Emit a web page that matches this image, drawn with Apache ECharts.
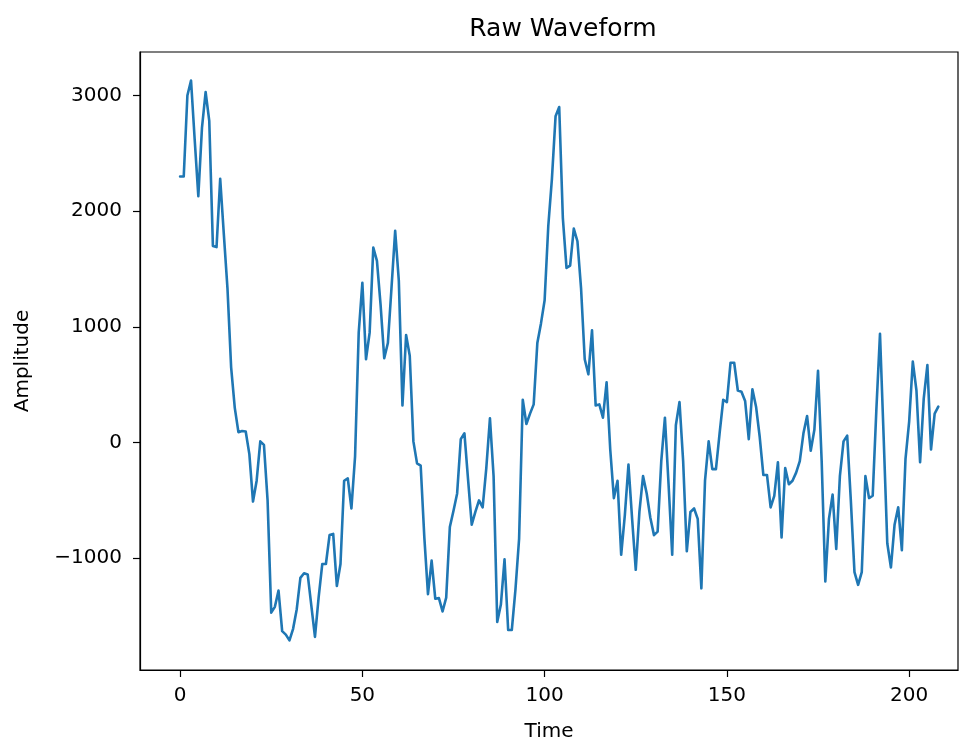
<!DOCTYPE html>
<html>
<head>
<meta charset="utf-8">
<title>Raw Waveform</title>
<script src="https://cdn.jsdelivr.net/npm/echarts@6/dist/echarts.min.js"></script>
<style>
  html, body { margin: 0; padding: 0; background: #ffffff; }
  #chart { width: 973px; height: 747px; }
</style>
</head>
<body>
<div id="chart"></div>
<script>
// Sampled amplitude of the raw signal, one value per time step (0..208)
const amplitude = [
  2300, 2300, 3000, 3130, 2620, 2130, 2720, 3030, 2780, 1700,
  1690, 2280, 1800, 1330, 650, 300, 90, 100, 95, -100,
  -510, -330, 10, -20, -500, -1470, -1420, -1280, -1630, -1660,
  -1710, -1610, -1440, -1170, -1130, -1140, -1410, -1680, -1340, -1050,
  -1050, -800, -790, -1240, -1050, -330, -310, -570, -120, 950,
  1380, 720, 950, 1685, 1570, 1190, 730, 860, 1340, 1830,
  1400, 320, 930, 750, 10, -180, -200, -820, -1310, -1020,
  -1350, -1345, -1460, -1340, -730, -590, -440, 30, 80, -320,
  -710, -600, -500, -560, -220, 210, -290, -1550, -1400, -1010,
  -1620, -1620, -1270, -830, 370, 160, 250, 330, 860, 1030,
  1230, 1870, 2280, 2820, 2900, 1940, 1510, 1530, 1850, 1740,
  1330, 720, 590, 970, 320, 330, 215, 520, -60, -480,
  -330, -970, -630, -190, -660, -1100, -600, -290, -440, -650,
  -800, -770, -160, 215, -360, -970, 150, 350, -160, -940,
  -600, -570, -660, -1260, -330, 10, -230, -230, 80, 370,
  350, 690, 690, 450, 440, 360, 30, 460, 310, 50,
  -280, -280, -560, -460, -170, -820, -220, -360, -330, -260,
  -160, 80, 230, -70, 110, 620, -160, -1200, -660, -450,
  -920, -290, 10, 60, -500, -1120, -1230, -1120, -290, -480,
  -460, 280, 940, 50, -870, -1080, -710, -560, -930, -140,
  180, 700, 450, -170, 380, 670, -60, 250, 310
];

// Tick positions shown on each axis
const timeTicks = [0, 50, 100, 150, 200];
const amplitudeTicks = [-1000, 0, 1000, 2000, 3000];

// Pair every sample with its time step
const seriesData = amplitude.map((v, t) => [t, v]);

const FONT = 'DejaVu Sans';
const TEXT_COLOR = '#000000';
const formatTick = v => (v < 0 ? '\u2212' + Math.abs(v) : String(v));

const chart = echarts.init(document.getElementById('chart'), null, { renderer: 'canvas' });

chart.setOption({
  animation: false,
  backgroundColor: '#ffffff',
  title: {
    text: 'Raw Waveform',
    left: 558,
    textAlign: 'center',
    top: 12,
    textStyle: { fontFamily: FONT, fontSize: 25, fontWeight: 'normal', color: TEXT_COLOR }
  },
  grid: {
    left: 140,
    right: 15,
    top: 52,
    bottom: 70,
    show: true,
    borderColor: '#000000',
    borderWidth: 1.2,
    backgroundColor: 'transparent'
  },
  xAxis: {
    type: 'value',
    min: -11,
    max: 213.4,
    name: 'Time',
    nameLocation: 'middle',
    nameGap: 52,
    nameTextStyle: { fontFamily: FONT, fontSize: 20, color: TEXT_COLOR },
    axisLine: { show: true, onZero: false, lineStyle: { color: '#000000', width: 1.2 } },
    axisTick: {
      show: true,
      length: 7,
      inside: false,
      customValues: timeTicks,
      lineStyle: { color: '#000000', width: 1.2 }
    },
    axisLabel: {
      show: true,
      margin: 16,
      customValues: timeTicks,
      formatter: formatTick,
      fontFamily: FONT,
      fontSize: 20,
      color: TEXT_COLOR
    },
    splitLine: { show: false }
  },
  yAxis: {
    type: 'value',
    min: -1966,
    max: 3376,
    name: 'Amplitude',
    nameLocation: 'middle',
    nameGap: 107,
    nameRotate: 90,
    nameTextStyle: { fontFamily: FONT, fontSize: 20, color: TEXT_COLOR },
    axisLine: { show: true, onZero: false, lineStyle: { color: '#000000', width: 1.2 } },
    axisTick: {
      show: true,
      length: 7,
      inside: false,
      customValues: amplitudeTicks,
      lineStyle: { color: '#000000', width: 1.2 }
    },
    axisLabel: {
      show: true,
      margin: 18,
      customValues: amplitudeTicks,
      formatter: formatTick,
      fontFamily: FONT,
      fontSize: 20,
      color: TEXT_COLOR
    },
    splitLine: { show: false }
  },
  series: [{
    type: 'line',
    data: seriesData,
    showSymbol: false,
    symbol: 'none',
    smooth: false,
    lineStyle: { color: '#1f77b4', width: 2.6, join: 'round', cap: 'round' },
    itemStyle: { color: '#1f77b4' },
    emphasis: { disabled: true }
  }]
});
</script>
</body>
</html>
